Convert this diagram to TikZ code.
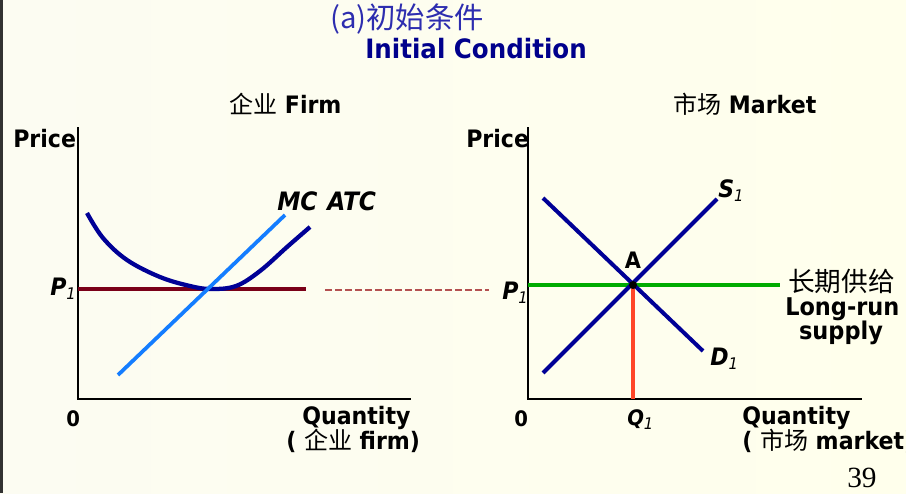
\documentclass[tikz,border=0pt]{standalone}
\usepackage{fontspec}
\setmainfont{DejaVu Sans}[FakeStretch=0.92]
\newfontfamily\cjk{Noto Sans CJK SC}
\newfontfamily\pagefont{Liberation Serif}
\definecolor{bgleft}{RGB}{252,252,242}
\definecolor{bgmid}{RGB}{255,255,216}
\definecolor{bgright}{RGB}{255,255,236}
\definecolor{edgegray}{RGB}{50,50,50}
\definecolor{curveblue}{RGB}{0,0,150}
\definecolor{mcblue}{RGB}{20,125,255}
\definecolor{pmaroon}{RGB}{122,0,24}
\definecolor{dashmaroon}{RGB}{180,80,80}
\definecolor{lrgreen}{RGB}{0,172,0}
\definecolor{qred}{RGB}{255,70,40}
\definecolor{titleblue}{RGB}{45,45,175}
\definecolor{navytext}{RGB}{0,0,140}
\newcommand\lowidx[1]{\raisebox{-0.35ex}{\fontsize{12}{12}\selectfont\mdseries\itshape #1}}

\begin{document}
\begin{tikzpicture}[x=0.75pt,y=-0.75pt]
\tikzset{
  lbl/.style={inner sep=0pt,anchor=base west,font=\fontsize{18}{21}\selectfont\bfseries},
  itlbl/.style={lbl,font=\fontsize{18}{21}\selectfont\bfseries\itshape},
  axis/.style={line width=2pt,line cap=rect},
  curve/.style={line width=3pt,curveblue},
  dot/.style={circle,fill=black,inner sep=0pt,minimum size=6pt}
}
% background
\shade[left color=bgleft,middle color=bgmid,right color=bgright] (0,0) rectangle (906,493);
\fill[edgegray] (0,0) rectangle (3,493);
\useasboundingbox (0,0) rectangle (906,493);

% titles
\node[inner sep=0pt,text=titleblue,font=\fontsize{22}{24}\selectfont\cjk] (n_sub) at (407,19) {(a)初始条件};
\node[inner sep=0pt,anchor=base,text=navytext,font=\fontsize{20}{22}\selectfont\bfseries] (n_init) at (476,58) {Initial Condition};
\node[lbl] (n_firm) at (229,113) {{\cjk\mdseries 企业} Firm};
\node[lbl] (n_market) at (673,113) {{\cjk\mdseries 市场} Market};

% firm panel
\coordinate (f_top) at (78,128);
\coordinate (f_o) at (78,399);
\coordinate (f_end) at (410,399);
\coordinate (f_p0) at (78,289);
\coordinate (f_p1) at (306,289);
\coordinate (f_mc0) at (118,375);
\coordinate (f_mc1) at (285,215);
\coordinate (d_0) at (325,290);
\coordinate (d_1) at (489,290);
\draw[axis] (f_top) -- (f_o) -- (f_end);
\draw[line width=3pt,pmaroon] (f_p0) -- (f_p1);
\draw[curve,line width=3.2pt] plot[smooth,tension=0.6] coordinates {(87,213) (103,238) (127,260) (160,277) (190,286) (211,289) (236,286) (260,271) (287,247) (310,227)};
\draw[line width=2.8pt,mcblue] (f_mc0) -- (f_mc1);
\draw[line width=1.1pt,dashmaroon,dash pattern=on 5pt off 2.5pt] (d_0) -- (d_1);
\node[lbl] (n_price_f) at (13,147) {Price};
\node[itlbl] (n_p1_f) at (50,295) {P\lowidx{1}};
\node[itlbl,font=\fontsize{19}{21}\selectfont\bfseries\itshape] (n_mc) at (277,210) {MC};
\node[itlbl,font=\fontsize{19}{21}\selectfont\bfseries\itshape] (n_atc) at (327,210) {ATC};
\node[lbl,font=\fontsize{16}{18}\selectfont\bfseries] (n_zero_f) at (66,426) {0};
\node[lbl] (n_qty_f) at (302,424) {Quantity};
\node[lbl] (n_unit_f) at (286,449) {( {\cjk\mdseries 企业} firm)};

% market panel
\coordinate (m_top) at (528,128);
\coordinate (m_o) at (528,399);
\coordinate (m_end) at (861,399);
\coordinate (a_pt) at (633,285);
\coordinate (m_q1) at (633,399);
\coordinate (m_lr0) at (528,285);
\coordinate (m_lr1) at (780,285);
\coordinate (m_d0) at (543,198);
\coordinate (m_d1) at (703,351);
\coordinate (m_s0) at (543,373);
\coordinate (m_s1) at (717,199);
\draw[axis] (m_top) -- (m_o) -- (m_end);
\draw[line width=2.5pt,qred] (a_pt) -- (m_q1);
\draw[line width=3pt,lrgreen] (m_lr0) -- (m_lr1);
\draw[curve] (m_d0) -- (m_d1);
\draw[curve] (m_s0) -- (m_s1);
\node[dot] (n_A) at (a_pt) {};
\node[lbl,anchor=base,font=\fontsize{17}{19}\selectfont\bfseries] (n_alab) at (633,268) {A};
\node[lbl] (n_price_m) at (466,147) {Price};
\node[itlbl] (n_p1_m) at (502,299) {P\lowidx{1}};
\node[itlbl] (n_s1) at (718,197) {S\lowidx{1}};
\node[itlbl] (n_d1) at (710,365) {D\lowidx{1}};
\node[lbl,font=\fontsize{20}{22}\selectfont\cjk] (n_lr_cn) at (788,291) {长期供给};
\node[lbl,font=\fontsize{18.3}{22}\selectfont\bfseries] (n_lr_en) at (785,315) {Long-run};
\node[lbl,anchor=base,font=\fontsize{18.3}{22}\selectfont\bfseries] (n_supply) at (841,339) {supply};
\node[lbl,font=\fontsize{16}{18}\selectfont\bfseries] (n_zero_m) at (514,426) {0};
\node[itlbl,font=\fontsize{16}{18}\selectfont\bfseries\itshape] (n_q1) at (627,425) {Q\lowidx{1}};
\node[lbl] (n_qty_m) at (742,424) {Quantity};
\node[lbl] (n_unit_m) at (742,449) {( {\cjk\mdseries 市场} market)};

\node[inner sep=0pt,anchor=base west,font=\fontsize{22}{24}\selectfont\pagefont] (n_page) at (847,487) {39};
\end{tikzpicture}
\end{document}
